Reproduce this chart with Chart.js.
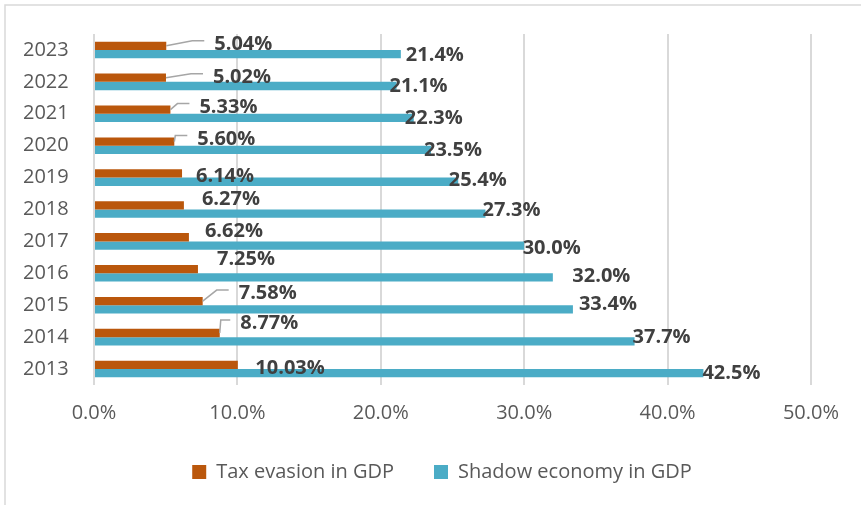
<!DOCTYPE html>
<html><head><meta charset="utf-8">
<script src="https://cdn.jsdelivr.net/npm/chart.js@4"></script>
<style>html,body{margin:0;padding:0;background:#fff}#wrap{width:861px;height:505px;position:relative}</style>
</head><body><div id="wrap"><canvas id="c"></canvas></div>
<script>
// ---- data (top to bottom) ----
const years = ['2023','2022','2021','2020','2019','2018','2017','2016','2015','2014','2013'];
const taxEvasion = [5.04, 5.02, 5.33, 5.60, 6.14, 6.27, 6.62, 7.25, 7.58, 8.77, 10.03];
const shadowEconomy = [21.4, 21.1, 22.3, 23.5, 25.4, 27.3, 30.0, 32.0, 33.4, 37.7, 42.5];
const xTickValues = [0, 10, 20, 30, 40, 50];
const seriesNames = ['Tax evasion in GDP', 'Shadow economy in GDP'];

// ---- label placement nudges (layout only, px from bar end / bar centre) ----
const taxLabelNudge = [[48,-3],[47,-2],[29,-4],[23,-4],[14,1.5],[18,-7.5],[16,-7],[19,-11],[36,-9],[20.5,-11],[17.5,2]];
const taxLeader = [1,1,1,1,0,0,0,0,1,1,0];
const shadowLabelNudge = [[5,0],[-7,-1],[-9,-1],[-7,-0.5],[-9.5,-3],[-3,-4.5],[-1.5,1.5],[19.5,-2.5],[6,-6.5],[-2,-5.5],[-1,-1.5]];

const FONT = '"Open Sans", "Noto Sans", sans-serif';

const framePlugin = {
  id: 'frame',
  afterLayout(chart) {
    if (chart.legend) chart.legend.left += 21;
  },
  beforeDraw(chart) {
    const ctx = chart.ctx;
    ctx.save();
    ctx.fillStyle = '#fff';
    ctx.fillRect(0, 0, chart.width, chart.height);
    ctx.strokeStyle = '#d9d9d9';
    ctx.lineWidth = 1.5;
    ctx.beginPath();
    ctx.moveTo(5, chart.height + 5);
    ctx.lineTo(5, 5);
    ctx.lineTo(chart.width + 5, 5);
    ctx.stroke();
    ctx.restore();
  }
};

const labelPlugin = {
  id: 'valueLabels',
  afterDatasetsDraw(chart) {
    const ctx = chart.ctx;
    ctx.save();
    const size = 20;
    ctx.font = 'bold ' + size + 'px ' + FONT;
    ctx.textAlign = 'left';
    ctx.textBaseline = 'alphabetic';
    const cap = size * 0.714;
    const draw = (dsIdx, nudges, digits, leaders) => {
      const meta = chart.getDatasetMeta(dsIdx);
      const vals = chart.data.datasets[dsIdx].data;
      meta.data.forEach((bar, i) => {
        const x = bar.x + nudges[i][0];
        const cy = bar.y + nudges[i][1];
        if (leaders && leaders[i]) {
          const ey = cy - 2;
          const ex = x - 10;
          const elx = Math.max(bar.x + 1, x - 22);
          ctx.strokeStyle = '#a6a6a6';
          ctx.lineWidth = 1.5;
          ctx.beginPath();
          ctx.moveTo(bar.x, bar.y);
          ctx.lineTo(elx, ey);
          ctx.lineTo(ex, ey);
          ctx.stroke();
        }
        ctx.fillStyle = '#404040';
        ctx.fillText(vals[i].toFixed(digits) + '%', x, cy + cap / 2);
      });
    };
    draw(0, taxLabelNudge, 2, taxLeader);
    draw(1, shadowLabelNudge, 1, null);
    ctx.restore();
  }
};

new Chart(document.getElementById('c'), {
  type: 'bar',
  data: {
    labels: years,
    datasets: [
      { label: seriesNames[0], data: taxEvasion, backgroundColor: '#BA570C', borderWidth: 0 },
      { label: seriesNames[1], data: shadowEconomy, backgroundColor: '#4BACC6', borderWidth: 0 }
    ]
  },
  options: {
    indexAxis: 'y',
    responsive: true,
    maintainAspectRatio: false,
    animation: false,
    datasets: { bar: { barPercentage: 1.0, categoryPercentage: 0.52 } },
    layout: { padding: { left: 23, right: 21, top: 34, bottom: 13 } },
    scales: {
      x: {
        min: 0, max: 50,
        afterBuildTicks(scale) { scale.ticks = xTickValues.map(v => ({ value: v })); },
        afterFit(scale) { scale.height = 37; },
        ticks: {
          callback: v => Number(v).toFixed(1) + '%',
          color: '#595959',
          font: { family: FONT, size: 20, lineHeight: 0.6 },
          padding: 22,
          maxRotation: 0
        },
        grid: { color: '#d9d9d9', lineWidth: 2, drawTicks: false },
        border: { display: false }
      },
      y: {
        afterFit(scale) { scale.width = 71; },
        ticks: {
          color: '#595959',
          font: { family: FONT, size: 20 },
          padding: 0,
          crossAlign: 'far'
        },
        grid: { display: false },
        border: { display: false }
      }
    },
    plugins: {
      legend: {
        position: 'bottom',
        labels: {
          boxWidth: 14, boxHeight: 14,
          color: '#595959',
          font: { family: FONT, size: 20 },
          padding: 40
        }
      },
      tooltip: { enabled: false }
    }
  },
  plugins: [framePlugin, labelPlugin]
});
</script>
</body></html>
